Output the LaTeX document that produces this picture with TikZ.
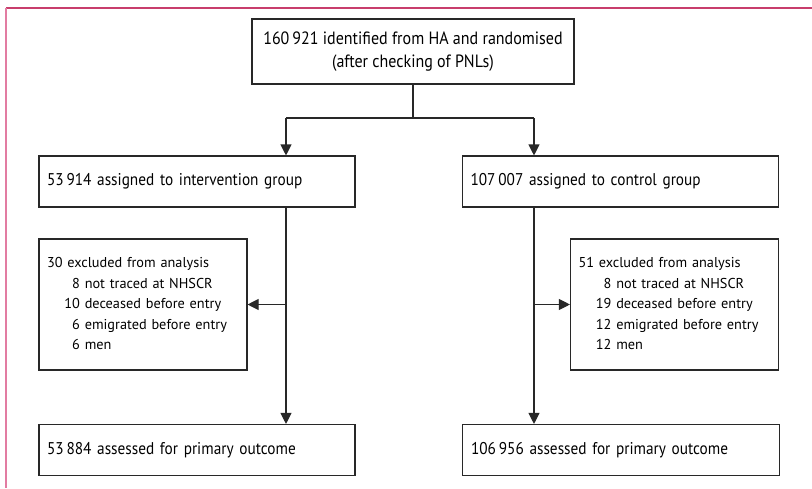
\documentclass[tikz,border=0pt]{standalone}
\usepackage{fontspec}
\setmainfont{PT Sans}
\newfontfamily\narrowfont[FakeStretch=0.90]{PT Sans}
\usetikzlibrary{arrows.meta}

\definecolor{frametop}{RGB}{200,62,108}
\definecolor{frameleft}{RGB}{226,124,162}
\definecolor{linegrey}{RGB}{40,40,40}

\tikzstyle{box} = [draw = linegrey, line width = 1.1pt, rectangle, inner xsep = 8pt, inner ysep = 0pt, font = \narrowfont\fontsize{17}{23}\selectfont]
\tikzstyle{wide} = [box, minimum width = 316pt, minimum height = 51pt, text width = 300pt, align = left]
\tikzstyle{excl} = [box, minimum width = 208pt, minimum height = 131pt, text width = 192pt, align = left, font = \fontsize{14.3}{20.6}\selectfont]
\tikzstyle{link} = [draw = linegrey, line width = 1.1pt]
\tikzstyle{arr} = [link, -{Triangle[length = 11pt, width = 11pt]}]
\newcommand{\exclrow}[2]{\hspace*{16pt}\makebox[17pt][r]{#1}\ #2}

\begin{document}
\begin{tikzpicture}[x = 1pt, y = -1pt]
    \useasboundingbox (0,0) rectangle (812,488);
    % frame
    \draw [frametop, line width = 2pt] (6,8) -- (812,8);
    \draw [frameleft, line width = 2pt] (6,8) -- (6,488);

    % boxes
    \node [box, minimum width = 322pt, minimum height = 65pt, align = center, font = \narrowfont\fontsize{17.8}{23}\selectfont] (rand) at (413,51.5)
        {160\,921 identified from HA and randomised\\(after checking of PNLs)};
    \node [wide] (interv) at (197,181.5) {53\,914 assigned to intervention group};
    \node [wide] (contr) at (620.5,181.5) {107\,007 assigned to control group};
    \node [excl] (exclI) at (143,304.5)
        {\begin{tabular}{@{}l@{}}
         30 excluded from analysis\\
         \exclrow{8}{not traced at NHSCR}\\
         \exclrow{10}{deceased before entry}\\
         \exclrow{6}{emigrated before entry}\\
         \exclrow{6}{men}
         \end{tabular}};
    \node [excl] (exclC) at (674.5,304.5)
        {\begin{tabular}{@{}l@{}}
         51 excluded from analysis\\
         \exclrow{8}{not traced at NHSCR}\\
         \exclrow{19}{deceased before entry}\\
         \exclrow{12}{emigrated before entry}\\
         \exclrow{12}{men}
         \end{tabular}};
    \node [wide] (outI) at (197,450) {53\,884 assessed for primary outcome};
    \node [wide, minimum width = 317pt] (outC) at (621,450) {106\,956 assessed for primary outcome};

    % connectors
    \coordinate (splitI) at (286,118);
    \coordinate (splitC) at (534,118);
    \draw [link] (rand.south) -- (rand.south |- splitI);
    \draw [arr] (splitI) -- (splitI |- interv.north);
    \draw [arr] (splitC) -- (splitC |- contr.north);
    \draw [link] (splitI) -- (splitC);
    \draw [arr] (splitI |- interv.south) -- (splitI |- outI.north);
    \draw [arr] (splitC |- contr.south) -- (splitC |- outC.north);
    \draw [arr] (splitI |- exclI.east) -- (exclI.east);
    \draw [arr] (splitC |- exclC.west) -- (exclC.west);
\end{tikzpicture}
\end{document}
